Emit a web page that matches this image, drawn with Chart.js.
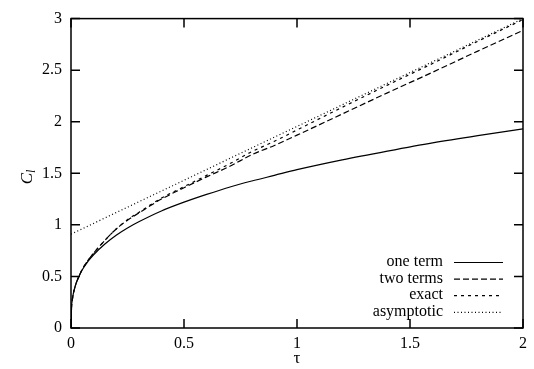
<!DOCTYPE html>
<html>
<head>
<meta charset="utf-8">
<script src="https://cdn.jsdelivr.net/npm/chart.js@4.4.1/dist/chart.umd.min.js"></script>
<style>
  html, body { margin: 0; padding: 0; background: #fff; }
  #wrap { width: 534px; height: 369px; }
</style>
</head>
<body>
<div id="wrap"><canvas id="chart"></canvas></div>
<script>
// valeurs
const tau = [0, 0.0025, 0.005, 0.01, 0.02, 0.03, 0.05, 0.075, 0.1, 0.15, 0.2, 0.25, 0.3, 0.4, 0.5, 0.6, 0.7, 0.8, 0.9, 1.0, 1.2, 1.4, 1.6, 1.8, 2.0];
const oneTerm = [0, 0.21, 0.26, 0.33, 0.415, 0.475, 0.565, 0.645, 0.71, 0.815, 0.9, 0.97, 1.03, 1.135, 1.22, 1.295, 1.365, 1.425, 1.48, 1.535, 1.63, 1.715, 1.795, 1.865, 1.93];
const twoTerms = [0, 0.21, 0.26, 0.33, 0.415, 0.475, 0.57, 0.655, 0.725, 0.85, 0.96, 1.045, 1.115, 1.25, 1.36, 1.465, 1.565, 1.68, 1.77, 1.87, 2.075, 2.28, 2.48, 2.685, 2.885];
const exact = [0, 0.21, 0.26, 0.33, 0.415, 0.475, 0.57, 0.655, 0.725, 0.85, 0.96, 1.05, 1.12, 1.26, 1.37, 1.48, 1.59, 1.71, 1.81, 1.92, 2.14, 2.355, 2.565, 2.78, 2.99];
const tauAsym = [0, 2];
const asymptotic = [0.91, 3.0];
const xTicks = [0, 0.5, 1, 1.5, 2];
const yTicks = [0, 0.5, 1, 1.5, 2, 2.5, 3];

const serif = "'Liberation Serif', 'Times New Roman', Times, 'DejaVu Serif', serif";

function pts(xs, ys) {
    return xs.map((x, i) => ({ x: x, y: ys[i] }));
}

// cadre + graduations vers l'intérieur (style gnuplot)
const framePlugin = {
    id: "frame",
    afterDatasetsDraw(chart) {
        const ctx = chart.ctx;
        const a = chart.chartArea;
        const xs = chart.scales.x, ys = chart.scales.y;
        ctx.save();
        ctx.strokeStyle = "#000";
        ctx.lineWidth = 1.5;
        ctx.strokeRect(a.left, a.top, a.right - a.left, a.bottom - a.top);
        ctx.beginPath();
        xTicks.forEach(v => {
            const p = xs.getPixelForValue(v);
            ctx.moveTo(p, a.bottom); ctx.lineTo(p, a.bottom - 9);
            ctx.moveTo(p, a.top); ctx.lineTo(p, a.top + 9);
        });
        yTicks.forEach(v => {
            const p = ys.getPixelForValue(v);
            ctx.moveTo(a.left, p); ctx.lineTo(a.left + 9, p);
            ctx.moveTo(a.right, p); ctx.lineTo(a.right - 9, p);
        });
        ctx.stroke();

        // titre de l'axe y : C avec indice l
        ctx.fillStyle = "#000";
        ctx.translate(26, ys.getPixelForValue(1.5) + 4);
        ctx.rotate(-Math.PI / 2);
        ctx.textBaseline = "alphabetic";
        ctx.textAlign = "left";
        ctx.font = "italic 17px " + serif;
        ctx.fillText("C", -7, 6);
        const w = ctx.measureText("C").width;
        ctx.font = "italic 12px " + serif;
        ctx.fillText("l", -7 + w, 9);
        ctx.restore();
    }
};

// légende à l'intérieur, texte aligné à droite, échantillon à droite
const legendPlugin = {
    id: "innerLegend",
    afterDraw(chart) {
        const ctx = chart.ctx;
        ctx.save();
        ctx.font = "16px " + serif;
        ctx.textAlign = "right";
        ctx.textBaseline = "middle";
        chart.data.datasets.forEach((ds, i) => {
            const y = 262 + i * 16.6;
            ctx.fillStyle = "#000";
            ctx.fillText(ds.label, 443, y);
            ctx.beginPath();
            ctx.setLineDash(ds.borderDash || []);
            ctx.strokeStyle = ds.borderColor;
            ctx.lineWidth = ds.borderWidth;
            ctx.moveTo(454, y + 0.5);
            ctx.lineTo(503, y + 0.5);
            ctx.stroke();
        });
        ctx.restore();
    }
};

new Chart(document.getElementById("chart"), {
    type: "line",
    data: {
        datasets: [
            { label: "one term", data: pts(tau, oneTerm), borderColor: "#000", borderWidth: 1.2, borderDash: [] },
            { label: "two terms", data: pts(tau, twoTerms), borderColor: "#000", borderWidth: 1.2, borderDash: [6, 3] },
            { label: "exact", data: pts(tau, exact), borderColor: "#000", borderWidth: 1.2, borderDash: [3, 4] },
            { label: "asymptotic", data: pts(tauAsym, asymptotic), borderColor: "#000", borderWidth: 1.2, borderDash: [1, 2.5] }
        ]
    },
    options: {
        responsive: true,
        maintainAspectRatio: false,
        animation: false,
        layout: { padding: { top: 13, right: 11, left: 0, bottom: 0 } },
        elements: {
            point: { radius: 0 },
            line: { cubicInterpolationMode: "monotone" }
        },
        plugins: {
            legend: { display: false },
            tooltip: { enabled: false }
        },
        scales: {
            x: {
                type: "linear",
                min: 0, max: 2,
                grid: { display: false, drawTicks: false },
                border: { display: false },
                afterBuildTicks: s => { s.ticks = xTicks.map(v => ({ value: v })); },
                afterFit: s => { s.height = 41; },
                ticks: { color: "#000", padding: 6, font: { family: serif, size: 16 }, callback: v => String(v) },
                title: { display: true, text: "τ", color: "#000", padding: { top: -4, bottom: 0 }, font: { family: serif, size: 17 } }
            },
            y: {
                min: 0, max: 3,
                grid: { display: false, drawTicks: false },
                border: { display: false },
                afterBuildTicks: s => { s.ticks = yTicks.map(v => ({ value: v })); },
                afterFit: s => { s.width = 71; },
                ticks: { color: "#000", padding: 9, font: { family: serif, size: 16 }, callback: v => String(v) }
            }
        }
    },
    plugins: [framePlugin, legendPlugin]
});
</script>
</body>
</html>
